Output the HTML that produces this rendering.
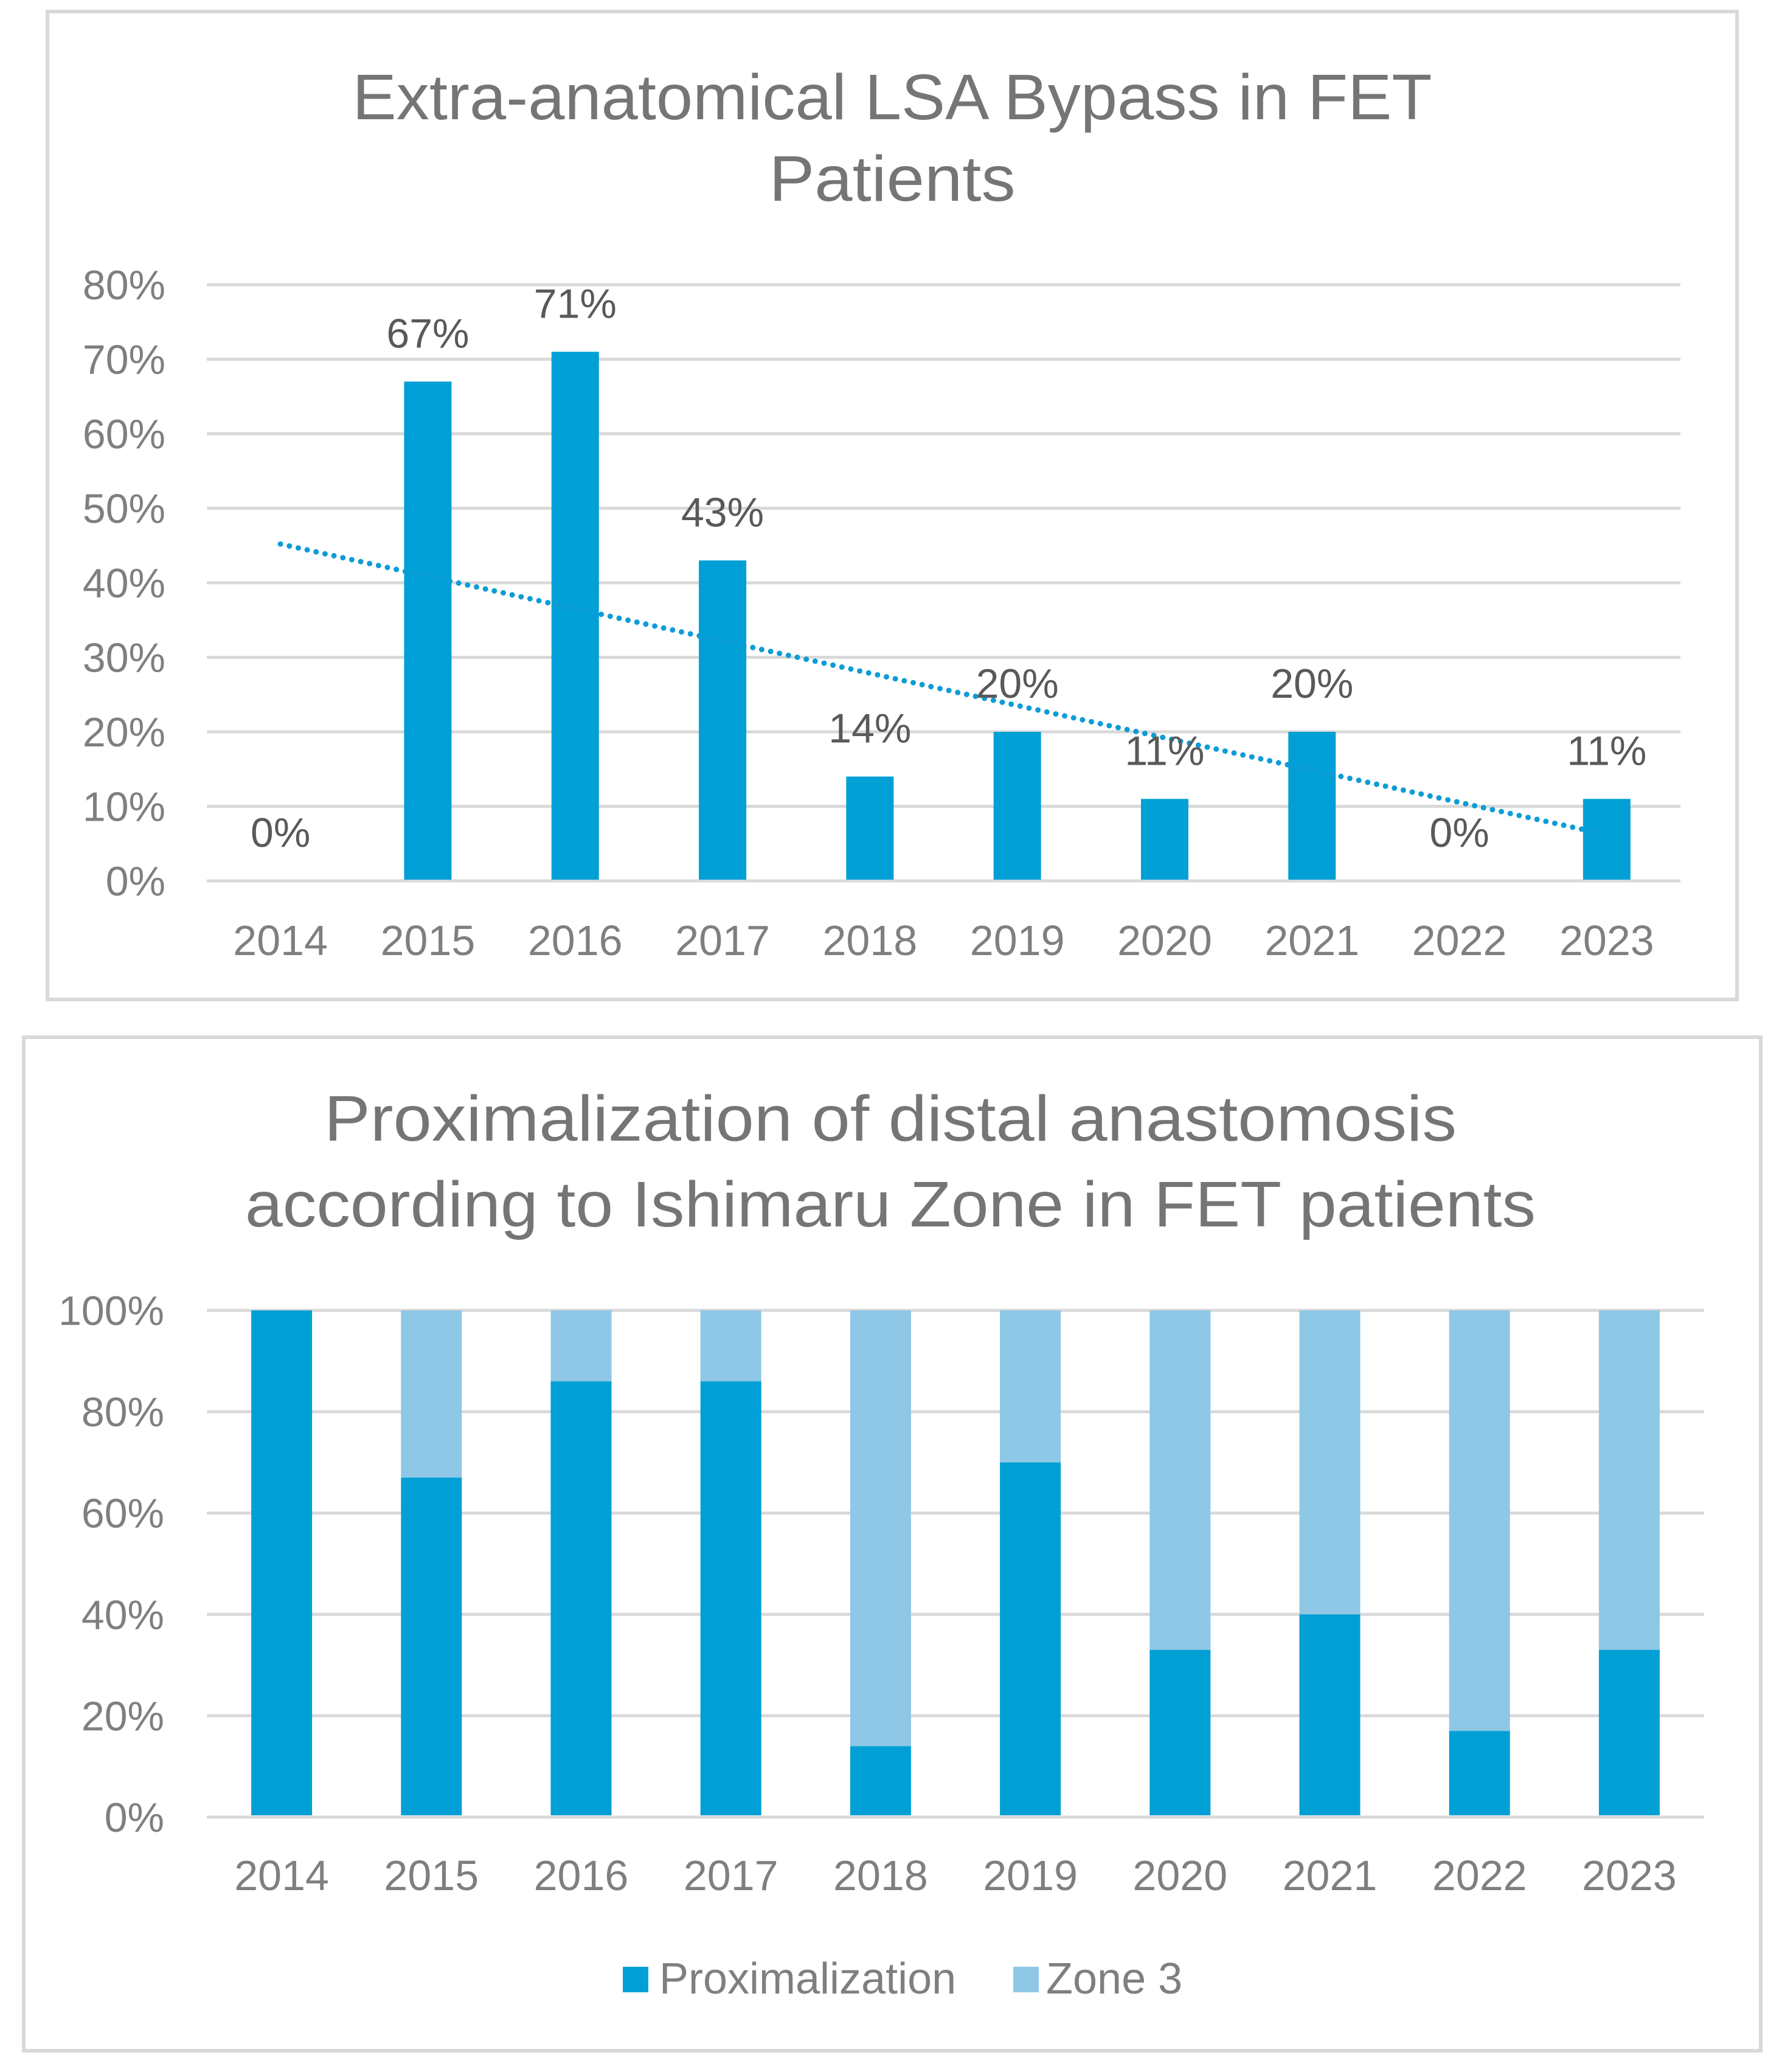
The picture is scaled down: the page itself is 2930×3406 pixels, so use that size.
<!DOCTYPE html>
<html><head><meta charset="utf-8"><style>
html,body{margin:0;padding:0;background:#fff}
svg{display:block;font-family:"Liberation Sans",sans-serif}
</style></head><body>
<svg id="svg" width="2930" height="3406" viewBox="0 0 2930 3406" xmlns="http://www.w3.org/2000/svg">
<rect x="78" y="19" width="2778" height="1624" fill="#fff" stroke="#d9d9d9" stroke-width="6"/>
<text x="1467" y="196" text-anchor="middle" font-size="106" textLength="1775" lengthAdjust="spacingAndGlyphs" fill="#757575">Extra-anatomical LSA Bypass in FET</text>
<text x="1467" y="330" text-anchor="middle" font-size="106" textLength="405" lengthAdjust="spacingAndGlyphs" fill="#757575">Patients</text>
<g id="c1"></g>
<rect x="39" y="1705" width="2856" height="1666" fill="#fff" stroke="#d9d9d9" stroke-width="6"/>
<text x="1464" y="1875" text-anchor="middle" font-size="106" textLength="1862" lengthAdjust="spacingAndGlyphs" fill="#757575">Proximalization of distal anastomosis</text>
<text x="1464" y="2016" text-anchor="middle" font-size="106" textLength="2122" lengthAdjust="spacingAndGlyphs" fill="#757575">according to Ishimaru Zone in FET patients</text>
<g id="c2"></g>
<g>
<rect x="1024" y="3233" width="42" height="42" fill="#00a0d6"/>
<text x="1084" y="3277" font-size="72" fill="#7f7f7f">Proximalization</text>
<rect x="1666" y="3233" width="42" height="42" fill="#8fc7e6"/>
<text x="1720" y="3277" font-size="72" fill="#7f7f7f">Zone 3</text>
</g>
</svg>
<script>
const years = ["2014","2015","2016","2017","2018","2019","2020","2021","2022","2023"];
const lsaBypass = [0,67,71,43,14,20,11,20,0,11];
const lsaLabels = ["0%","67%","71%","43%","14%","20%","11%","20%","0%","11%"];
const ticks1 = [0,10,20,30,40,50,60,70,80];
const proximalization = [100,67,86,86,14,70,33,40,17,33];
const ticks2 = [0,20,40,60,80,100];

const NS="http://www.w3.org/2000/svg";
function mk(parent,tag,attrs,text){const e=document.createElementNS(NS,tag);for(const k in attrs)e.setAttribute(k,attrs[k]);if(text!==undefined)e.textContent=text;parent.appendChild(e);return e;}

// Chart 1
(function(){
  const g=document.getElementById('c1');
  const L=340,R=2763,T=468,B=1448,max=80;
  const y=v=>B-(v/max)*(B-T);
  const step=(R-L)/years.length;
  const x=i=>L+step*(i+0.5);
  ticks1.forEach(t=>{
    const ln=mk(g,'line',{x1:L,x2:R,y1:y(t),y2:y(t),stroke:'#d9d9d9','stroke-width':5});
    
    
    const tx=mk(g,'text',{x:272,y:y(t)+24,'text-anchor':'end','font-size':68,fill:'#7f7f7f'},t+'%');
    
    
  });
  const bw=78;
  lsaBypass.forEach((v,i)=>{
    const r=mk(g,'rect',{x:x(i)-bw/2,y:y(v),width:bw,height:B-y(v)-2,fill:'#00a0d6'});
    
    
  });
  const n=lsaBypass.length;let mx=(n-1)/2,my=lsaBypass.reduce((a,b)=>a+b,0)/n,sxy=0,sxx=0;
  lsaBypass.forEach((v,i)=>{sxy+=(i-mx)*(v-my);sxx+=(i-mx)*(i-mx);});
  const sl=sxy/sxx,ic=my-sl*mx;
  const tl=mk(g,'line',{x1:x(0),y1:y(ic),x2:x(n-1),y2:y(ic+sl*(n-1)),stroke:'#0d9cd6','stroke-width':9,'stroke-dasharray':'0 15','stroke-linecap':'round'});
  
  
  lsaBypass.forEach((v,i)=>{
    const t=mk(g,'text',{x:x(i),y:y(v)-56,'text-anchor':'middle','font-size':68,fill:'#595959'},lsaLabels[i]);
    
    
    const xl=mk(g,'text',{x:x(i),y:1570,'text-anchor':'middle','font-size':70,fill:'#7f7f7f'},years[i]);
    
    
  });
})();

// Chart 2
(function(){
  const g=document.getElementById('c2');
  const L=340,R=2802,T=2154,B=2987,max=100;
  const y=v=>B-(v/max)*(B-T);
  const step=(R-L)/years.length;
  const x=i=>L+step*(i+0.5);
  ticks2.forEach(t=>{
    const ln=mk(g,'line',{x1:L,x2:R,y1:y(t),y2:y(t),stroke:'#d9d9d9','stroke-width':5});
    
    
    const tx=mk(g,'text',{x:270,y:y(t)+24,'text-anchor':'end','font-size':68,fill:'#7f7f7f'},t+'%');
    
    
  });
  const bw=100;
  proximalization.forEach((v,i)=>{
    const z=mk(g,'rect',{x:x(i)-bw/2,y:y(100),width:bw,height:y(v)-y(100),fill:'#8fc7e6'});
    
    
    const r=mk(g,'rect',{x:x(i)-bw/2,y:y(v),width:bw,height:B-y(v)-3,fill:'#00a0d6'});
    
    
    const xl=mk(g,'text',{x:x(i),y:3107,'text-anchor':'middle','font-size':70,fill:'#7f7f7f'},years[i]);
    
    
  });
})();
</script>
</body></html>
